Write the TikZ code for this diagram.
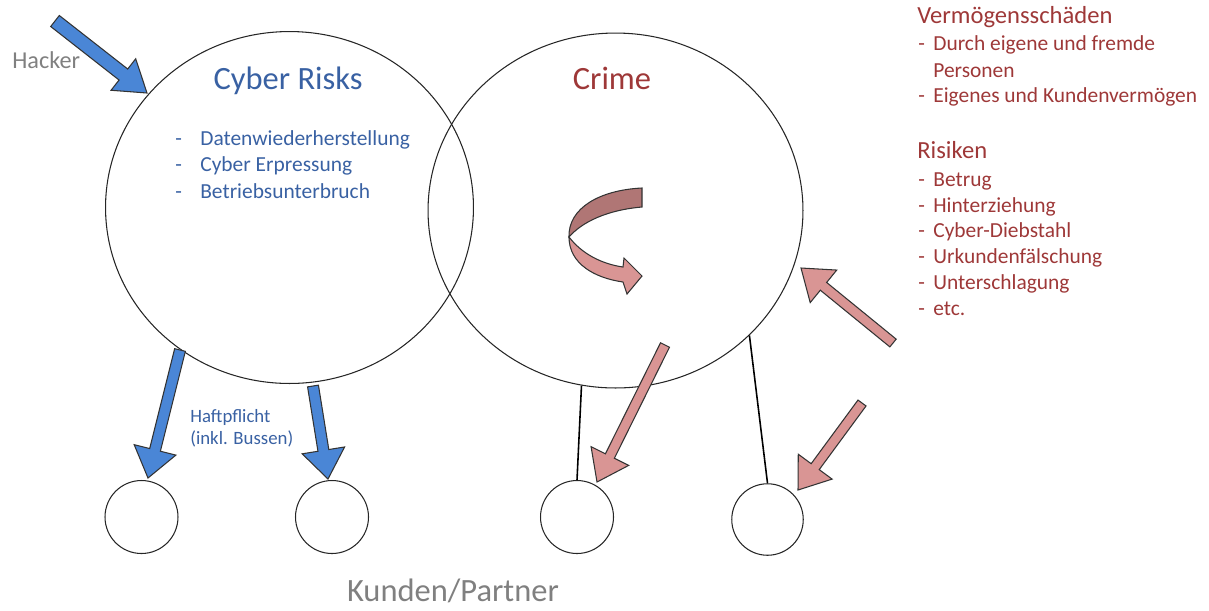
\documentclass[tikz,border=0pt]{standalone}
\usepackage{fontspec}
\setmainfont{Carlito}
\usetikzlibrary{calc,shapes.geometric}
\definecolor{cblue}{RGB}{74,134,214}
\definecolor{tblue}{RGB}{57,97,163}
\definecolor{tred}{RGB}{158,56,56}
\definecolor{apink}{RGB}{217,149,148}
\definecolor{adark}{RGB}{176,118,117}
\definecolor{tgray}{RGB}{128,128,128}
\newcommand\fatarrow[6]{%
  \coordinate (fab) at ($(#3)!#6!(#2)$);
  \draw[#1] ($(#2)!#4!90:(#3)$) -- ($(fab)!#4!90:(#3)$) -- ($(fab)!#5!90:(#3)$) -- (#3)
    -- ($(fab)!#5!-90:(#3)$) -- ($(fab)!#4!-90:(#3)$) -- ($(#2)!#4!-90:(#3)$) -- cycle;}
\newcommand\litem[1]{\makebox[0.5cm][l]{-}#1}
\newcommand\ritem[1]{\makebox[0.3cm][l]{-}#1}
\begin{document}
\begin{tikzpicture}[x=0.02cm,y=-0.02cm,
  bigcirc/.style={draw=black!85, line width=0.6pt, ellipse, inner sep=0pt},
  smallcirc/.style={draw=black!85, line width=0.6pt, circle, inner sep=0pt, minimum size=1.46cm},
  title/.style={font=\fontsize{18.5}{22}\selectfont, inner sep=0pt, anchor=base},
  ltxt/.style={font=\fontsize{12.2}{15}\selectfont, text=tblue, inner sep=0pt, anchor=base west},
  rtxt/.style={font=\fontsize{12.2}{15}\selectfont, text=tred, inner sep=0pt, anchor=base west},
  rhead/.style={font=\fontsize{14}{17}\selectfont, text=tred, inner sep=0pt, anchor=base west},
  htxt/.style={font=\fontsize{10.7}{13}\selectfont, text=tblue, inner sep=0pt, anchor=base west},
  conn/.style={draw=black, line width=0.9pt},
  bluearr/.style={fill=cblue, draw=black!80, line width=0.6pt, line join=miter},
  pinkarr/.style={fill=apink, draw=black!80, line width=0.6pt, line join=miter}]
\useasboundingbox (0,0) rectangle (1209,610);

% big circles
\node[bigcirc, minimum width=7.36cm, minimum height=7.04cm] (cyber) at (289.5,207.5) {};
\node[bigcirc, minimum width=7.5cm, minimum height=7.1cm] (crime) at (615.5,210.5) {};

% small circles
\node[smallcirc] (k1) at (141.5,517) {};
\node[smallcirc] (k2) at (332,517) {};
\node[smallcirc] (k3) at (577,517) {};
\node[smallcirc, minimum size=1.43cm] (k4) at (767.5,519.5) {};

% connectors
\draw[conn] (crime.259) -- (k3.north);
\draw[conn] (crime.317) -- (k4.north);

% titles
\node[title, text=tblue] (tcyber) at (288,89) {Cyber Risks};
\node[title, text=tred] (tcrime) at (612,89) {Crime};

% left list
\node[ltxt] (l1) at (175,145) {\litem{Datenwiederherstellung}};
\node[ltxt] (l2) at (175,171.5) {\litem{Cyber Erpressung}};
\node[ltxt] (l3) at (175,198) {\litem{Betriebsunterbruch}};

% Haftpflicht
\node[htxt] (h1) at (190,422) {Haftpflicht};
\node[htxt] (h2) at (190,444) {(inkl. Bussen)};

% Hacker
\node[font=\fontsize{13.8}{16}\selectfont, text=tgray, inner sep=0pt, anchor=base west] (hacker) at (12,68) {Hacker};

% Kunden/Partner
\node[title, text=tgray] (kp) at (453,601) {Kunden/Partner};

% right lists
\node[rhead] (r0) at (917,23) {Vermögensschäden};
\node[rtxt] (r1) at (918,50) {\ritem{Durch eigene und fremde}};
\node[rtxt] (r2) at (933,77) {Personen};
\node[rtxt] (r3) at (918,102) {\ritem{Eigenes und Kundenvermögen}};
\node[rhead] (s0) at (917,158) {Risiken};
\node[rtxt] (s1) at (918,186) {\ritem{Betrug}};
\node[rtxt] (s2) at (918,212) {\ritem{Hinterziehung}};
\node[rtxt] (s3) at (918,237.5) {\ritem{Cyber-Diebstahl}};
\node[rtxt] (s4) at (918,263) {\ritem{Urkundenfälschung}};
\node[rtxt] (s5) at (918,289) {\ritem{Unterschlagung}};
\node[rtxt] (s6) at (918,315) {\ritem{etc.}};

% arrows
\coordinate (ha0) at (55,21);   \coordinate (ha1) at (147,93);
\coordinate (b10) at (180,350); \coordinate (b11) at (148,478);
\coordinate (b20) at (313,386); \coordinate (b21) at (328,479);
\coordinate (p10) at (665,345); \coordinate (p11) at (597,482);
\coordinate (p20) at (862,403); \coordinate (p21) at (798,490);
\coordinate (p30) at (893,343); \coordinate (p31) at (801,268);
\fatarrow{bluearr}{ha0}{ha1}{0.14cm}{0.4cm}{0.6cm}
\fatarrow{bluearr}{b10}{b11}{0.11cm}{0.43cm}{0.58cm}
\fatarrow{bluearr}{b20}{b21}{0.11cm}{0.43cm}{0.58cm}
\fatarrow{pinkarr}{p10}{p11}{0.1cm}{0.42cm}{0.58cm}
\fatarrow{pinkarr}{p20}{p21}{0.1cm}{0.42cm}{0.58cm}
\fatarrow{pinkarr}{p30}{p31}{0.1cm}{0.42cm}{0.58cm}

% curved arrow
\draw[fill=adark, draw=black!80, line width=0.6pt]
  (642,188) .. controls (600,190) and (568,208) .. (569,237)
  .. controls (582,222) and (607,210) .. (642,207) -- cycle;
\draw[fill=apink, draw=black!80, line width=0.6pt, line join=miter]
  (569,237) .. controls (569,264) and (595,278) .. (623,282) -- (627,294) -- (642,276)
  -- (624,258) -- (623,267) .. controls (602,264) and (582,254) .. (569,237) -- cycle;
\end{tikzpicture}
\end{document}
